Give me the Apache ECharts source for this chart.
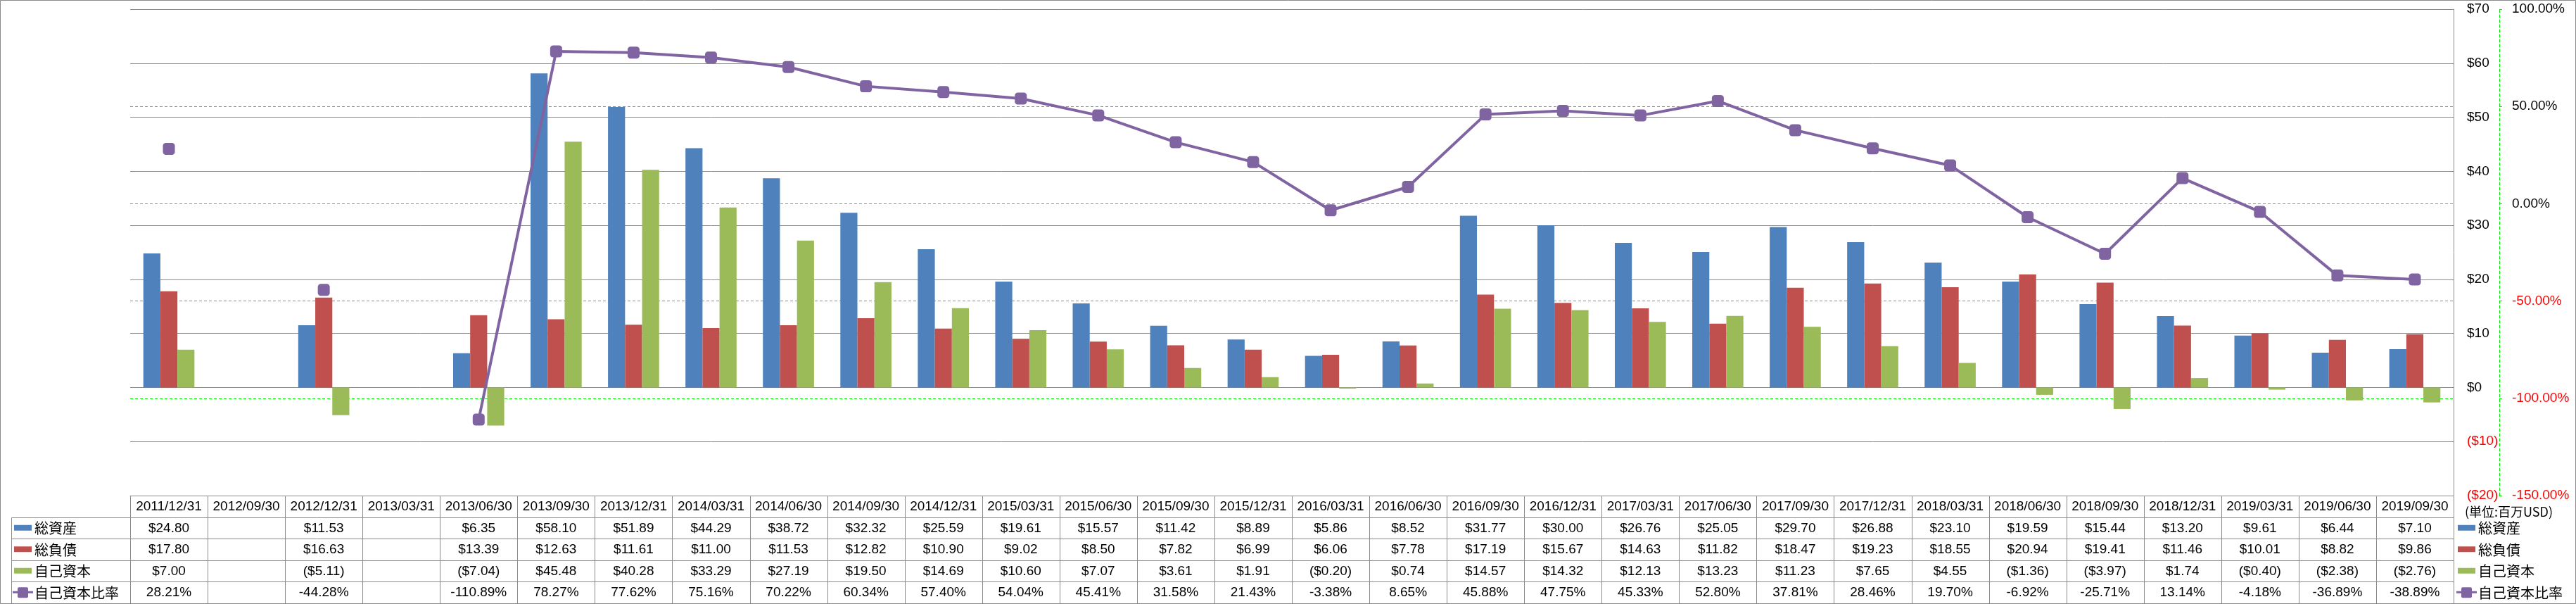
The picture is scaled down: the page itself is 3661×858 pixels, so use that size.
<!DOCTYPE html>
<html>
<head>
<meta charset="utf-8">
<script src="https://cdn.jsdelivr.net/npm/echarts@6/dist/echarts.min.js"></script>
<style>
html,body{margin:0;padding:0;background:#ffffff;}
#chart{width:3661px;height:858px;}
</style>
</head>
<body>
<div id="chart"></div>
<script>
// ---------- DATA ----------
const categories = ['2011/12/31','2012/09/30','2012/12/31','2013/03/31','2013/06/30','2013/09/30','2013/12/31','2014/03/31','2014/06/30','2014/09/30','2014/12/31','2015/03/31','2015/06/30','2015/09/30','2015/12/31','2016/03/31','2016/06/30','2016/09/30','2016/12/31','2017/03/31','2017/06/30','2017/09/30','2017/12/31','2018/03/31','2018/06/30','2018/09/30','2018/12/31','2019/03/31','2019/06/30','2019/09/30'];
const totalAssets = [24.80,null,11.53,null,6.35,58.10,51.89,44.29,38.72,32.32,25.59,19.61,15.57,11.42,8.89,5.86,8.52,31.77,30.00,26.76,25.05,29.70,26.88,23.10,19.59,15.44,13.20,9.61,6.44,7.10];
const totalLiabilities = [17.80,null,16.63,null,13.39,12.63,11.61,11.00,11.53,12.82,10.90,9.02,8.50,7.82,6.99,6.06,7.78,17.19,15.67,14.63,11.82,18.47,19.23,18.55,20.94,19.41,11.46,10.01,8.82,9.86];
const equity = [7.00,null,-5.11,null,-7.04,45.48,40.28,33.29,27.19,19.50,14.69,10.60,7.07,3.61,1.91,-0.20,0.74,14.57,14.32,12.13,13.23,11.23,7.65,4.55,-1.36,-3.97,1.74,-0.40,-2.38,-2.76];
const equityRatio = [28.21,null,-44.28,null,-110.89,78.27,77.62,75.16,70.22,60.34,57.40,54.04,45.41,31.58,21.43,-3.38,8.65,45.88,47.75,45.33,52.80,37.81,28.46,19.70,-6.92,-25.71,13.14,-4.18,-36.89,-38.89];
const seriesNames = ['総資産','総負債','自己資本','自己資本比率'];
const unitLabel = '(単位:百万USD)';
const dollarAxis = {min:-20, max:70, interval:10};
const pctAxis = {min:-150, max:100, interval:50};

// ---------- STYLE / LAYOUT ----------
const W = 3661, H = 858;
const colors = ['#4F81BD','#C0504D','#9BBB59','#8064A2'];
const gray = '#8a8a8a';
const green = '#00ee00';
const numFont = "'Liberation Sans','Noto Sans CJK JP',sans-serif";
const cjkFont = "'Noto Sans CJK JP',sans-serif";
const numSize = 19;
const plotL = 185, plotR = 3487, plotT = 13, plotB = 704;
const rowEdges = [704, 734.5, 765, 795.5, 826, 856.5];
const tableLeft = 16;

function fmtMoney(v){ if(v==null) return ''; return v<0 ? '($'+(-v).toFixed(2)+')' : '$'+v.toFixed(2); }
function fmtPct(v){ if(v==null) return ''; return v.toFixed(2)+'%'; }

const chart = echarts.init(document.getElementById('chart'), null, {renderer:'canvas'});

const n = categories.length;
const catW = (plotR - plotL)/n;
const g = [];
const px = v => Math.round(v) + 0.5;

// outer border
g.push({type:'rect', shape:{x:0.5,y:0.5,width:W-1,height:H-1}, style:{fill:null, stroke:gray, lineWidth:1}, silent:true, z:1});

// table horizontal lines
for (let r=1; r<rowEdges.length; r++){
  g.push({type:'line', shape:{x1:tableLeft+0.5, y1:px(rowEdges[r]), x2:plotR+0.5, y2:px(rowEdges[r])}, style:{stroke:gray, lineWidth:1}, silent:true, z:5});
}
// table vertical lines
g.push({type:'line', shape:{x1:tableLeft+0.5, y1:px(rowEdges[1]), x2:tableLeft+0.5, y2:px(rowEdges[5])}, style:{stroke:gray, lineWidth:1}, silent:true, z:5});
for (let i=0; i<=n; i++){
  const x = px(plotL + i*catW);
  g.push({type:'line', shape:{x1:x, y1:plotB+0.5, x2:x, y2:px(rowEdges[5])}, style:{stroke:gray, lineWidth:1}, silent:true, z:5});
}
// header + values
const rows = [totalAssets, totalLiabilities, equity, equityRatio];
for (let i=0; i<n; i++){
  const cx = plotL + (i+0.5)*catW;
  g.push({type:'text', style:{text:categories[i], x:cx, y:(rowEdges[0]+rowEdges[1])/2+1, align:'center', verticalAlign:'middle', font:numSize+'px '+numFont, fill:'#000'}, silent:true, z:6});
  for (let r=0; r<4; r++){
    const t = r<3 ? fmtMoney(rows[r][i]) : fmtPct(rows[r][i]);
    g.push({type:'text', style:{text:t, x:cx, y:(rowEdges[r+1]+rowEdges[r+2])/2+1, align:'center', verticalAlign:'middle', font:numSize+'px '+numFont, fill:'#000'}, silent:true, z:6});
  }
}
// legend keys (in table and at right)
function legendKey(x, cy, idx){
  if (idx < 3){
    g.push({type:'rect', shape:{x:x, y:cy-4, width:25, height:8}, style:{fill:colors[idx]}, silent:true, z:6});
  } else {
    g.push({type:'line', shape:{x1:x-2, y1:cy, x2:x+27, y2:cy}, style:{stroke:colors[3], lineWidth:3}, silent:true, z:6});
    g.push({type:'rect', shape:{x:x+5, y:cy-7, width:15, height:15, r:2}, style:{fill:colors[3]}, silent:true, z:7});
  }
}
for (let r=0; r<4; r++){
  const cy = (rowEdges[r+1]+rowEdges[r+2])/2;
  legendKey(20, cy, r);
  g.push({type:'text', style:{text:seriesNames[r], x:49, y:cy+1, align:'left', verticalAlign:'middle', font:'20px '+cjkFont, fill:'#000'}, silent:true, z:6});
  legendKey(3493, cy, r);
  g.push({type:'text', style:{text:seriesNames[r], x:3522, y:cy+1, align:'left', verticalAlign:'middle', font:'20px '+cjkFont, fill:'#000'}, silent:true, z:6});
}
g.push({type:'text', style:{text:unitLabel, x:3503, y:727, align:'left', verticalAlign:'middle', font:'18px '+cjkFont, fill:'#000'}, silent:true, z:6});

const option = {
  backgroundColor:'#ffffff',
  animation:false,
  grid:{left:plotL, top:plotT, width:plotR-plotL, height:plotB-plotT, containLabel:false},
  xAxis:{
    type:'category', data:categories, boundaryGap:true,
    axisLine:{show:true, onZero:false, lineStyle:{color:gray, width:1}},
    axisTick:{show:false}, axisLabel:{show:false}, splitLine:{show:false}
  },
  yAxis:[
    {
      type:'value', position:'right', min:dollarAxis.min, max:dollarAxis.max, interval:dollarAxis.interval,
      axisLine:{show:true, lineStyle:{color:gray, width:1}},
      axisTick:{show:false},
      splitLine:{show:true, lineStyle:{color:gray, width:1, type:'solid'}},
      axisLabel:{
        show:true, margin:19, align:'left', showMinLabel:true, showMaxLabel:true,
        fontFamily:numFont, fontSize:numSize, color:'#000',
        formatter: v => v<0 ? '{neg|($'+(-v)+')}' : '$'+v,
        rich:{neg:{color:'#ff0000', fontFamily:numFont, fontSize:numSize}}
      }
    },
    {
      type:'value', position:'right', offset:65, min:pctAxis.min, max:pctAxis.max, interval:pctAxis.interval,
      axisLine:{show:true, lineStyle:{color:green, width:1, type:[4,3]}},
      axisTick:{show:true, length:4, inside:false, lineStyle:{color:green, width:1}},
      splitLine:{show:true, lineStyle:{color:green, width:1, type:[4,3]}},
      axisLabel:{
        show:true, margin:18, align:'left', showMinLabel:true, showMaxLabel:true,
        fontFamily:numFont, fontSize:numSize, color:'#000',
        formatter: v => v<0 ? '{neg|'+v.toFixed(2)+'%}' : v.toFixed(2)+'%',
        rich:{neg:{color:'#ff0000', fontFamily:numFont, fontSize:numSize}}
      }
    }
  ],
  series:[
    {name:seriesNames[0], type:'bar', yAxisIndex:0, data:totalAssets, barWidth:'22%', barGap:'0%', itemStyle:{color:colors[0]}},
    {name:seriesNames[1], type:'bar', yAxisIndex:0, data:totalLiabilities, barWidth:'22%', barGap:'0%', itemStyle:{color:colors[1]}},
    {name:seriesNames[2], type:'bar', yAxisIndex:0, data:equity, barWidth:'22%', barGap:'0%', itemStyle:{color:colors[2]}},
    {name:seriesNames[3], type:'line', yAxisIndex:1, data:equityRatio, connectNulls:false, showAllSymbol:true,
      symbol:'roundRect', symbolSize:17, lineStyle:{color:colors[3], width:4}, itemStyle:{color:colors[3]}, z:5}
  ],
  graphic:{elements:g}
};
chart.setOption(option);
</script>
</body>
</html>
